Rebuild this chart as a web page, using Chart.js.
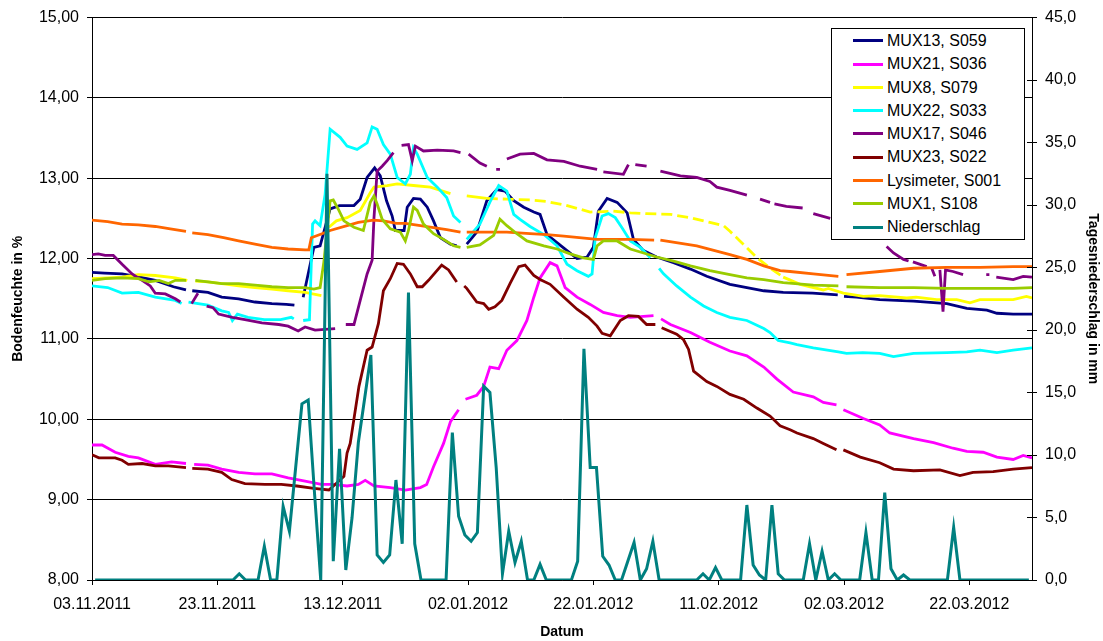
<!DOCTYPE html>
<html><head><meta charset="utf-8">
<script src="https://cdn.jsdelivr.net/npm/chart.js@4.4.1/dist/chart.umd.min.js"></script>
<style>
html,body{margin:0;padding:0;background:#fff;}
#wrap{position:relative;width:1103px;height:641px;}
#legend{position:absolute;left:831px;top:28px;width:192px;height:210px;border:1px solid #000;background:#fff;font-family:"Liberation Sans",Arial,sans-serif;font-size:16px;color:#000;}
#legend .row{height:23.3px;line-height:23.3px;white-space:nowrap;}
#legend .sw{display:inline-block;width:30px;height:3px;margin-left:21px;margin-right:4px;vertical-align:middle;position:relative;top:-1px;}
</style></head><body>
<div id="wrap"><canvas id="c" width="1103" height="641"></canvas><div id="legend"></div></div>
<script>
// ---- data: [day since 03.11.2011, value]; null = gap in record ----
const startDate = [2011, 10, 3];
const seriesLabels = ['MUX13, S059','MUX21, S036','MUX8, S079','MUX22, S033','MUX17, S046','MUX23, S022','Lysimeter, S001','MUX1, S108','Niederschlag'];

const mux13 = [[0,11.83],[2,11.82],[4.8,11.81],[7,11.78],[10.1,11.73],[13,11.65],[15,11.61],[15.3,null],[16,11.60],[18.5,11.58],[20.7,11.52],[23.4,11.50],[26,11.46],[28.7,11.44],[31,11.43],[32.3,11.42],[32.6,null],[33.7,11.52],[35.4,12.14],[36.4,12.16],[38,12.62],[39.5,12.66],[41.8,12.66],[42.8,12.74],[43.9,13.01],[45.1,13.13],[46,13.03],[47,12.72],[47.9,12.53],[48.4,12.35],[49.8,12.35],[50.3,12.64],[51.3,12.75],[52.4,12.74],[53.5,12.64],[54.5,12.47],[55.6,12.26],[57.2,12.18],[58.2,12.16],[58.6,null],[59.8,12.18],[61.4,12.33],[63,12.72],[64.6,12.86],[65.9,12.84],[67.3,12.72],[68.9,12.64],[70.5,12.58],[71.5,12.55],[72.6,12.30],[74.2,12.20],[75.8,12.10],[77.4,12.00],[79,12.02],[80,12.14],[80.8,12.59],[82.2,12.75],[83.8,12.70],[85.4,12.57],[86.4,12.24],[88,12.10],[90.1,12.02],[92.8,11.95],[95.5,11.87],[98.1,11.78],[101.8,11.68],[104.5,11.64],[107.2,11.60],[110.3,11.58],[115,11.57],[119,11.55],[119.3,null],[120,11.53],[122,11.52],[125.7,11.49],[131.1,11.47],[136.4,11.44],[139.6,11.38],[142.8,11.36],[144.4,11.32],[147,11.31],[150,11.31]];

const mux21 = [[0,9.68],[1.6,9.68],[3.7,9.59],[5.8,9.54],[7.4,9.52],[10.1,9.44],[12.7,9.47],[15,9.45],[15.3,null],[16.3,9.44],[18.5,9.43],[20.7,9.38],[23.4,9.34],[26,9.32],[28.7,9.32],[31.3,9.27],[34,9.23],[36.6,9.19],[38.5,9.19],[40.7,9.17],[42.5,9.19],[43.6,9.24],[45,9.17],[47.6,9.15],[50,9.12],[52.4,9.15],[53.4,9.19],[54.5,9.41],[56.1,9.70],[57.2,9.97],[58.5,10.12],[58.8,null],[59.6,10.25],[61.4,10.30],[62.5,10.41],[63.5,10.65],[64.9,10.63],[66.2,10.86],[67.8,10.98],[69.4,11.23],[70.5,11.52],[71.5,11.76],[73.1,11.95],[74.2,11.91],[75.5,11.64],[77.4,11.52],[79.5,11.43],[81.6,11.33],[83.8,11.29],[85.9,11.27],[89.6,11.29],[89.9,null],[90.8,11.25],[92.3,11.18],[95.5,11.08],[98.6,10.96],[101.8,10.85],[104.5,10.79],[107.2,10.65],[109.3,10.50],[111.9,10.34],[115.1,10.28],[116.7,10.21],[118.8,10.18],[119.2,null],[119.9,10.12],[123.1,10.01],[125.7,9.93],[127.3,9.83],[131.1,9.76],[134.3,9.71],[137.4,9.64],[139.6,9.60],[142.2,9.59],[144.4,9.53],[147,9.50],[148.6,9.55],[150,9.52]];

const mux8 = [[0,11.75],[4.8,11.77],[7.4,11.80],[10.1,11.79],[13.3,11.76],[15.2,11.73],[15.5,null],[16.5,11.72],[18.5,11.71],[20.7,11.69],[23.4,11.66],[26,11.64],[28.7,11.62],[31.3,11.60],[34,11.58],[36.6,11.54],[37,null],[37.8,12.39],[39,12.47],[40.7,12.51],[42.8,12.60],[44.4,12.82],[45,12.89],[47.1,12.91],[48.7,12.93],[51.3,12.91],[54,12.89],[57.2,12.81],[57.6,null],[59.8,12.78],[63,12.75],[66.2,12.74],[69.9,12.73],[72.6,12.71],[75.3,12.67],[79.5,12.58],[83.2,12.59],[85.9,12.57],[88.5,12.56],[92.3,12.55],[95.5,12.51],[98.6,12.45],[100.8,12.41],[101.8,12.34],[103.4,12.22],[106.1,12.01],[108.8,11.85],[110.3,11.77],[113,11.68],[116.7,11.61],[117.5,11.63],[119.9,11.57],[123.1,11.53],[125.7,11.54],[130,11.51],[131.5,11.52],[134.8,11.49],[138,11.49],[140.1,11.45],[141.7,11.49],[144.4,11.49],[147,11.49],[149.1,11.53],[150,11.51]];

const mux22 = [[0,11.66],[2.5,11.64],[4.8,11.57],[7.4,11.58],[10.1,11.52],[13.3,11.48],[14.3,11.44],[14.7,null],[15.4,11.46],[18.5,11.42],[20.7,11.35],[21.8,11.33],[22.4,11.23],[23.2,11.31],[24.9,11.27],[27.5,11.24],[30.1,11.24],[31.8,11.27],[32.2,11.25],[32.5,null],[33.7,11.23],[34.7,11.24],[35.2,12.43],[35.6,12.47],[36.4,12.41],[37.2,12.80],[38,13.61],[39.6,13.51],[40.7,13.40],[42.3,13.36],[43.9,13.44],[44.7,13.64],[45.5,13.61],[46.5,13.42],[47.6,13.30],[48.7,13.01],[50,12.93],[50.8,13.05],[51.3,13.38],[51.9,13.30],[53.5,13.01],[55.1,12.89],[56.6,12.76],[57.7,12.53],[58.8,12.45],[59.1,null],[59.8,12.24],[61.9,12.43],[63.6,12.72],[64.9,12.91],[66.2,12.84],[67.3,12.55],[68.3,12.49],[69.9,12.40],[72.1,12.30],[74.2,12.16],[75.8,11.93],[77.4,11.85],[79.2,11.78],[79.8,11.81],[80.3,12.26],[81.4,12.53],[82.4,12.56],[83.5,12.51],[84.6,12.38],[85.9,12.22],[87.5,12.14],[89.1,12.01],[89.6,null],[90.5,11.88],[91.2,11.81],[93.3,11.66],[95.5,11.52],[97.6,11.41],[99.7,11.33],[101.8,11.27],[104.5,11.23],[107.2,11.13],[108.2,11.08],[109.5,10.98],[111.4,10.95],[112.5,10.93],[115.1,10.89],[119.1,10.84],[120.4,10.82],[123,10.83],[125.7,10.82],[127.9,10.78],[131.1,10.82],[136.4,10.83],[139.6,10.84],[141.7,10.86],[144.4,10.83],[147,10.86],[150,10.89]];

const mux17 = [[0,12.05],[1,12.06],[2.1,12.04],[3.4,12.04],[4.8,11.93],[6.4,11.81],[8,11.73],[9.3,11.66],[10.1,11.57],[11.7,11.56],[13.3,11.50],[14.1,11.46],[14.6,null],[15.9,11.44],[16.9,11.57],[17.2,null],[18.3,11.41],[19.3,11.39],[20.2,11.31],[22.4,11.27],[24.4,11.24],[27.1,11.20],[29.8,11.18],[31.3,11.16],[32.9,11.10],[34,11.15],[35.6,11.11],[38.8,11.13],[39.3,null],[40.5,11.18],[41.8,11.18],[42.8,11.48],[43.9,11.81],[44.7,11.98],[45,12.51],[45.5,13.09],[46.3,13.15],[47.1,13.22],[48.1,13.32],[48.5,null],[49.4,13.41],[50.5,13.42],[51.1,13.22],[51.6,13.40],[52.9,13.34],[55.1,13.35],[57.7,13.34],[58.8,13.32],[59.2,null],[60.1,13.30],[61.9,13.19],[63,13.15],[63.4,null],[64.5,13.11],[65.1,13.11],[65.5,null],[66.2,13.24],[68.3,13.30],[70.5,13.31],[72.6,13.23],[75.3,13.21],[77.9,13.15],[80.6,13.11],[81.2,null],[81.6,13.08],[84.8,13.05],[85.6,13.17],[85.9,null],[86.7,13.17],[88.5,13.15],[88.9,null],[90.7,13.09],[93.9,13.03],[96.5,13.01],[98.6,12.96],[99.7,12.89],[101.8,12.85],[104.5,12.79],[105,null],[106.6,12.74],[108.2,12.70],[108.5,null],[108.9,12.68],[110.8,12.65],[113.4,12.63],[113.7,null],[115.1,12.56],[117.8,12.50],[118,null],[126.8,12.15],[127.9,12.07],[129.5,11.99],[130.3,11.97],[130.7,null],[131,11.96],[133.2,11.90],[133.5,null],[134,11.88],[134.5,11.78],[134.7,null],[135.3,11.86],[135.8,11.34],[136.2,11.86],[137.4,11.84],[139,11.80],[139.3,null],[142.7,11.80],[143.2,11.80],[143.4,null],[144.3,11.77],[147,11.74],[148.6,11.78],[150,11.77]];

const mux23 = [[0,9.56],[1.1,9.52],[3.7,9.52],[4.8,9.49],[5.8,9.44],[8,9.45],[10.1,9.42],[12.2,9.42],[15,9.40],[15.3,null],[16,9.39],[18.5,9.38],[20.7,9.34],[22.3,9.25],[24.4,9.20],[27.6,9.19],[30.2,9.19],[32.7,9.17],[35.4,9.14],[37.8,9.12],[39.1,9.21],[40.2,9.29],[40.7,9.58],[41.2,9.70],[42.6,10.41],[43.9,10.86],[44.7,10.90],[45.7,11.19],[46.5,11.60],[47.6,11.75],[48.7,11.94],[49.7,11.93],[50.8,11.81],[51.9,11.65],[52.7,11.65],[53.7,11.73],[54.8,11.83],[55.8,11.92],[56.9,11.86],[58.2,11.71],[58.6,null],[59.4,11.66],[59.8,11.63],[61.4,11.46],[62.5,11.44],[63.3,11.37],[64.3,11.40],[65.4,11.48],[66.7,11.69],[68.1,11.90],[69.1,11.92],[70.5,11.79],[71.5,11.74],[73.1,11.68],[75.3,11.52],[77.4,11.37],[79.2,11.27],[80.6,11.16],[81.4,11.07],[82.7,11.04],[84.3,11.23],[85.6,11.29],[87.2,11.28],[88.5,11.18],[89.9,11.18],[90.2,null],[90.9,11.14],[93.3,11.06],[94.4,10.99],[95.2,10.87],[96,10.60],[98.1,10.47],[99.7,10.41],[101.8,10.31],[104,10.25],[106.1,10.14],[108.2,10.04],[109.8,9.92],[111.4,9.87],[112.5,9.83],[115.1,9.76],[116.7,9.70],[118.8,9.62],[119.2,null],[119.9,9.62],[122.6,9.53],[125.7,9.46],[127.9,9.38],[131.1,9.36],[135.3,9.37],[138.5,9.30],[140.6,9.34],[143.8,9.35],[147,9.38],[150,9.40]];

const lysimeter = [[0,12.48],[2.5,12.46],[4.8,12.43],[7.4,12.42],[10.1,12.40],[12.5,12.37],[15,12.34],[15.2,null],[16,12.32],[18.5,12.30],[21,12.26],[23.4,12.22],[26,12.18],[28.7,12.14],[31.3,12.12],[34,12.11],[34.6,12.11],[35,12.26],[36.7,12.31],[38,12.35],[40.7,12.41],[42.5,12.45],[44.9,12.48],[46.5,12.47],[48.6,12.44],[50,12.44],[52.4,12.41],[56.6,12.36],[58.8,12.33],[59,null],[59.8,12.33],[61.9,12.33],[66.2,12.33],[69.9,12.31],[72.6,12.30],[75.3,12.28],[80.6,12.24],[85.9,12.24],[89.7,12.23],[90,null],[90.7,12.23],[96.5,12.16],[101.8,12.05],[104.5,11.99],[107.2,11.91],[109.8,11.85],[111.4,11.84],[115.1,11.81],[119.1,11.78],[119.4,null],[120.4,11.80],[125.7,11.84],[131.1,11.88],[136.4,11.89],[141.7,11.89],[147,11.90],[150,11.90]];

const mux1 = [[0,11.73],[2.1,11.75],[4.8,11.76],[7.4,11.75],[9.1,11.71],[10.7,11.73],[12.2,11.69],[13.3,11.73],[15,11.73],[15.3,null],[16.5,11.73],[18.5,11.71],[20.7,11.69],[23.4,11.69],[26,11.67],[28.7,11.65],[31.3,11.64],[34,11.64],[35.4,11.62],[36.4,11.64],[37,11.96],[38,12.72],[38.5,12.73],[39.4,12.60],[40.2,12.47],[41.8,12.39],[43.3,12.35],[44.4,12.70],[45,12.78],[45.5,12.68],[46.3,12.49],[47.6,12.37],[49.2,12.33],[50,12.22],[50.5,12.35],[51.3,12.64],[51.9,12.60],[52.9,12.43],[54.5,12.31],[56.1,12.24],[57.7,12.16],[58.8,12.14],[59.1,null],[59.8,12.14],[61.9,12.17],[64.1,12.29],[65.1,12.49],[66.2,12.41],[67.8,12.31],[69.4,12.22],[72.1,12.16],[74.2,12.12],[76.3,12.06],[78.4,12.01],[80,11.99],[80.6,12.16],[81.6,12.22],[83.8,12.22],[85.9,12.12],[88,12.07],[90.1,12.02],[92.8,11.97],[95.5,11.91],[98.6,11.85],[101.8,11.80],[104.5,11.76],[107.2,11.74],[110.3,11.70],[115.1,11.67],[119.1,11.66],[119.4,null],[120.4,11.65],[125.7,11.64],[131.1,11.64],[136.4,11.63],[141.7,11.63],[147,11.63],[150,11.64]];

// daily precipitation in mm, one value per day starting 03.11.2011
const precipDaily = [0,0,0,0,0,0,0,0,0,0, 0,0,0,0,0,0,0,0,0,0, 0,0,0,0.5,0,0,0,2.7,0,0,
  5.9,3.9,9.0,14.1,14.4,7.0,0,32.5,1.5,10.5, 0.8,5.0,11.0,14.5,18.0,2.0,1.4,2.0,8.0,2.9,
  23.0,2.9,0,0,0,0,0,11.8,5.1,3.6, 3.1,3.8,15.5,15.0,9.0,0.5,3.9,1.4,3.1,0,
  0,1.25,0,0,0,0,0,1.5,18.5,9.0, 9.0,1.9,1.2,0,0,1.5,3.0,0,0.9,3.1,
  0,0,0,0,0,0,0,0.5,0,1.0, 0,0,0,0,6.0,1.2,0.4,0,6.0,0.5,
  0,0,0,0,2.9,0,2.3,0,0.5,0, 0,0,0,3.8,0,0,7.0,0.9,0,0.4,
  0,0,0,0,0,0,0,4.2,0,0, 0,0,0,0,0,0,0,0,0,0];

const seriesColors = ['#000080','#FF00FF','#FFFF00','#00FFFF','#800080','#800000','#FF6600','#99CC00','#008080'];

// ---- build chart ----
const FONT = '"Liberation Sans", Arial, sans-serif';
Chart.defaults.font.family = FONT;
Chart.defaults.color = '#000';

function pad2(n){ return (n < 10 ? '0' : '') + n; }
function fmtDate(v){
  const d = new Date(startDate[0], startDate[1], startDate[2] + Math.round(v));
  return pad2(d.getDate()) + '.' + pad2(d.getMonth() + 1) + '.' + d.getFullYear();
}
const toXY = arr => arr.map(p => ({x: p[0], y: p[1]}));

const soil = [mux13, mux21, mux8, mux22, mux17, mux23, lysimeter, mux1];
const datasets = soil.map((arr, i) => ({
  label: seriesLabels[i],
  data: toXY(arr),
  borderColor: seriesColors[i],
  backgroundColor: seriesColors[i],
  borderWidth: 2.8,
  pointRadius: 0,
  tension: 0,
  spanGaps: false,
  yAxisID: 'y',
  order: 10 - i
}));
datasets[2].segment = {
  borderDash: ctx => (ctx.p0.parsed.x >= 60 && ctx.p1.parsed.x <= 111) ? [11, 5] : undefined
};
datasets.push({
  label: seriesLabels[8],
  data: precipDaily.map((v, i) => ({x: i + 0.5, y: v})),
  borderColor: seriesColors[8],
  backgroundColor: seriesColors[8],
  borderWidth: 3,
  pointRadius: 0,
  tension: 0,
  yAxisID: 'y2',
  order: 1
});

const innerRightTicks = {
  id: 'innerRightTicks',
  afterDraw(chart){
    const s = chart.scales.y2, ctx = chart.ctx;
    ctx.save();
    ctx.strokeStyle = '#000'; ctx.lineWidth = 1;
    s.ticks.forEach(t => {
      const y = Math.round(s.getPixelForValue(t.value) - 0.5) + 0.5;
      ctx.beginPath(); ctx.moveTo(s.left - 5, y); ctx.lineTo(s.left, y); ctx.stroke();
    });
    ctx.restore();
  }
};

const chart = new Chart(document.getElementById('c'), {
  type: 'line',
  data: { datasets },
  plugins: [innerRightTicks],
  options: {
    responsive: false,
    animation: false,
    devicePixelRatio: 1,
    layout: { padding: { top: 16, left: 0, right: 0, bottom: 0 } },
    plugins: { legend: { display: false }, tooltip: { enabled: false } },
    scales: {
      x: {
        type: 'linear', position: 'bottom', min: 0, max: 150,
        ticks: { stepSize: 20, includeBounds: false, autoSkip: false, maxRotation: 0, minRotation: 0, padding: 10,
                 color: '#000', font: { size: 16 }, callback: v => fmtDate(v) },
        grid: { drawOnChartArea: false, drawTicks: true, tickLength: 5, color: '#000' },
        border: { display: true, color: '#000', width: 1 },
        title: { display: true, text: 'Datum', color: '#000', font: { size: 14, weight: 'bold' }, padding: { top: 0, bottom: 0 } },
        afterFit: s => { s.height = 61; }
      },
      y: {
        type: 'linear', position: 'left', min: 8, max: 15,
        ticks: { stepSize: 1, padding: 8, color: '#000', font: { size: 16 },
                 callback: v => v.toFixed(2).replace('.', ',') },
        grid: { color: '#000', drawTicks: true, tickLength: 5 },
        border: { display: true, color: '#000', width: 1 },
        title: { display: true, text: 'Bodenfeuchte in %', color: '#000', font: { size: 14, weight: 'bold' }, padding: { top: 10, bottom: 0 } },
        afterFit: s => { s.width = 92; }
      },
      y2: {
        type: 'linear', position: 'right', min: 0, max: 45,
        ticks: { stepSize: 5, padding: 8, color: '#000', font: { size: 16 },
                 callback: v => v.toFixed(1).replace('.', ',') },
        grid: { drawOnChartArea: false, drawTicks: true, tickLength: 5, color: '#000' },
        border: { display: true, color: '#000', width: 1 },
        title: { display: true, text: 'Tagesniederschlag in mm', color: '#000', font: { size: 14, weight: 'bold' }, padding: { top: 2, bottom: 0 } },
        afterFit: s => { s.width = 71; }
      }
    }
  }
});

// legend overlay (real text, built from the datasets)
const lg = document.getElementById('legend');
chart.data.datasets.forEach(ds => {
  const row = document.createElement('div'); row.className = 'row';
  const sw = document.createElement('span'); sw.className = 'sw'; sw.style.background = ds.borderColor;
  row.appendChild(sw);
  row.appendChild(document.createTextNode(ds.label));
  lg.appendChild(row);
});
</script>
</body></html>
